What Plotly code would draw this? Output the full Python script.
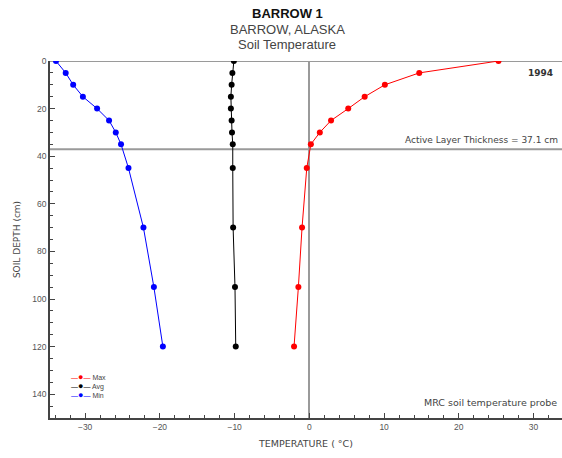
import plotly.graph_objects as go

depth = [0, 5, 10, 15, 20, 25, 30, 35, 45, 70, 95, 120]
t_max = [25.3, 14.7, 10.1, 7.4, 5.2, 2.9, 1.4, 0.2, -0.35, -0.98, -1.47, -2.05]
t_avg = [-10.1, -10.3, -10.4, -10.5, -10.5, -10.4, -10.35, -10.25, -10.25, -10.2, -9.95, -9.85]
t_min = [-33.9, -32.6, -31.6, -30.3, -28.4, -26.8, -25.9, -25.2, -24.2, -22.2, -20.8, -19.6]
series_names = ["Max", "Avg", "Min"]
series_colors = ["#ff0000", "#000000", "#0000ff"]
active_layer = 37.1
year_label = "1994"

FONT = "Liberation Sans, Arial, sans-serif"
WIDE = "DejaVu Sans, sans-serif"
GRAY = "#555555"

W, H = 562, 458
ml, mr, mt, mb = 50, 0, 61, 40
pw, ph = W - ml - mr, H - mt - mb
def px(xp):
    return (xp - ml) / pw
def py(yp):
    return (H - mb - yp) / ph

fig = go.Figure()
for name, vals, col in zip(series_names, [t_max, t_avg, t_min], series_colors):
    fig.add_trace(go.Scatter(x=vals, y=depth, name=name, mode="lines+markers",
                             line=dict(color=col, width=1),
                             marker=dict(color=col, size=6), showlegend=False))

fig.add_hline(y=0, line=dict(color="#9a9a9a", width=2), layer="below")
fig.add_hline(y=active_layer, line=dict(color="#9a9a9a", width=2), layer="below")

fig.add_annotation(x=1, xref="paper", xanchor="right", xshift=-7, y=5, yref="y", yanchor="middle",
                   text="<b>" + year_label + "</b>", showarrow=False,
                   font=dict(size=9, color="#333333", family=WIDE))
fig.add_annotation(x=1, xref="paper", xanchor="right", xshift=-2, y=active_layer, yref="y", yanchor="bottom",
                   yshift=2, text="Active Layer Thickness = %.1f cm" % active_layer, showarrow=False,
                   font=dict(size=9, color="#444444", family=WIDE))
fig.add_annotation(x=1, xref="paper", xanchor="right", xshift=-3, y=143.6, yref="y", yanchor="middle",
                   text="MRC soil temperature probe", showarrow=False,
                   font=dict(size=9.5, color="#444444", family=WIDE))

# compact legend (text-based)
leg_lines = ['<span style="color:%s">\u2014<span style="font-size:9px">\u25CF</span>\u2014</span> %s' % (c, n)
             for n, c in zip(series_names, series_colors)]
fig.add_annotation(x=px(69), y=py(386), xref="paper", yref="paper", xanchor="left", yanchor="middle",
                   align="left", showarrow=False, text="<br>".join(leg_lines),
                   font=dict(size=7, color="#444444", family=FONT))

for txt, yy, bold in [("BARROW 1", 13, True), ("BARROW, ALASKA", 29, False), ("Soil Temperature", 45, False)]:
    fig.add_annotation(x=px(287), y=py(yy), xref="paper", yref="paper", showarrow=False,
                       xanchor="center", yanchor="middle",
                       text=("<b>%s</b>" % txt) if bold else txt,
                       font=dict(size=13, color="#111111" if bold else "#444444", family=FONT))

fig.update_layout(
    width=W, height=H,
    margin=dict(l=ml, r=mr, t=mt, b=mb),
    paper_bgcolor="white", plot_bgcolor="white",
    showlegend=False,
    font=dict(family=FONT, color=GRAY),
)
fig.update_xaxes(range=[-34.7, 33.8], showgrid=False, zeroline=True, zerolinecolor="#9a9a9a",
                 zerolinewidth=2, showline=True, linecolor="#444444", linewidth=1.5,
                 ticks="inside", ticklen=5, tickcolor="#444444", dtick=10, tick0=0,
                 minor=dict(ticks="inside", ticklen=3, dtick=2, tickcolor="#444444"),
                 tickfont=dict(size=8.5, color="#555555"),
                 title=dict(text="TEMPERATURE ( °C)", font=dict(size=9.5, color="#444444", family=WIDE), standoff=9))
fig.update_yaxes(range=[150, 0], showgrid=False, zeroline=False, showline=True,
                 linecolor="#444444", linewidth=1.5,
                 ticks="inside", ticklen=5, tickcolor="#444444", dtick=20, tick0=0,
                 minor=dict(ticks="inside", ticklen=3, dtick=5, tickcolor="#444444"),
                 tickfont=dict(size=8.5, color="#555555"),
                 title=dict(text="SOIL DEPTH (cm)", font=dict(size=9, color="#444444", family=WIDE), standoff=10))

fig.write_html("out.html", config={"displayModeBar": False},
               post_script="document.body.style.margin='0';document.body.style.overflow='hidden';")
